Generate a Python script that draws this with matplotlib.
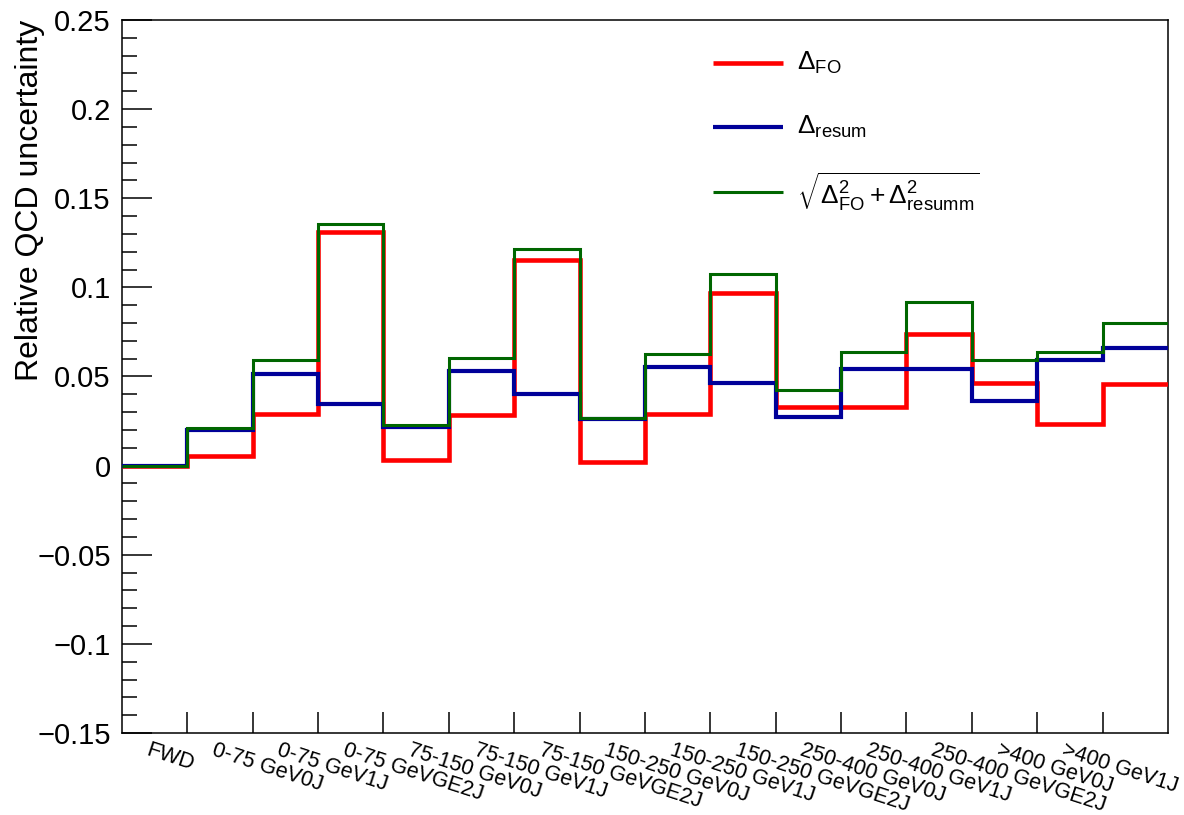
import matplotlib
matplotlib.use("Agg")
import matplotlib.pyplot as plt
import numpy as np
from matplotlib.lines import Line2D
from matplotlib.ticker import MultipleLocator, FuncFormatter, FixedLocator
from matplotlib.transforms import ScaledTranslation

plt.rcParams['font.family'] = ['Liberation Sans', 'DejaVu Sans']
plt.rcParams['mathtext.fontset'] = 'custom'
plt.rcParams['mathtext.rm'] = 'Liberation Sans'
plt.rcParams['mathtext.it'] = 'Liberation Sans:italic'
plt.rcParams['mathtext.bf'] = 'Liberation Sans:bold'

# Analysis categories (one histogram bin each; the last bin carries no label)
bin_labels = [
    "FWD",
    "0-75 GeV0J", "0-75 GeV1J", "0-75 GeVGE2J",
    "75-150 GeV0J", "75-150 GeV1J", "75-150 GeVGE2J",
    "150-250 GeV0J", "150-250 GeV1J", "150-250 GeVGE2J",
    "250-400 GeV0J", "250-400 GeV1J", "250-400 GeVGE2J",
    ">400 GeV0J", ">400 GeV1J", "",
]

# Relative uncertainties per bin
delta_fo = [0.0, 0.0056, 0.0287, 0.1310, 0.0030, 0.0285, 0.1152, 0.0020,
            0.0290, 0.0970, 0.0330, 0.0330, 0.0736, 0.0466, 0.0236, 0.0460]
delta_resum = [0.0, 0.0198, 0.0515, 0.0348, 0.0217, 0.0528, 0.0399, 0.0260,
               0.0556, 0.0466, 0.0275, 0.0540, 0.0540, 0.0365, 0.0590, 0.0660]
delta_total = [0.0, 0.0213, 0.0590, 0.1358, 0.0229, 0.0601, 0.1217, 0.0265,
               0.0624, 0.1073, 0.0427, 0.0640, 0.0920, 0.0590, 0.0635, 0.0800]

legend_labels = [
    r"$\Delta_{\mathrm{FO}}$",
    r"$\Delta_{\mathrm{resum}}$",
    r"$\sqrt{\Delta^{2}_{\mathrm{FO}} + \Delta^{2}_{\mathrm{resumm}}}$",
]

n_bins = len(bin_labels)
edges = np.arange(n_bins + 1)
centers = edges[:-1] + 0.5

fig = plt.figure(figsize=(11.84, 8.15), dpi=100)
ax = fig.add_axes([0.103, 0.1006, 0.8835, 0.8749])

red = "#ff0000"
blue = "#000099"
green = "#006600"
styles = [(red, 3.3), (blue, 3.0), (green, 2.2)]

for (col, lw), vals, z in zip(styles, [delta_fo, delta_resum, delta_total], [3, 4, 5]):
    ax.stairs(vals, edges, baseline=None, color=col, linewidth=lw, zorder=z)

ax.set_xlim(edges[0], edges[-1])
ax.set_ylim(-0.15, 0.25)

for sp in ax.spines.values():
    sp.set_linewidth(1.1)
    sp.set_color("black")

# y axis: major every 0.05, minor every 0.01, ticks inside on the left only
ax.yaxis.set_major_locator(MultipleLocator(0.05))
ax.yaxis.set_minor_locator(MultipleLocator(0.01))
ax.yaxis.set_major_formatter(FuncFormatter(lambda v, p: ("%g" % round(v, 4)).replace("-", "\u2212")))
ax.tick_params(axis="y", which="major", direction="in", length=21.6, width=1.1,
               labelsize=21, pad=8, right=False)
ax.tick_params(axis="y", which="minor", direction="in", length=10.8, width=1.1, right=False)

# x axis: ticks at bin edges, labels at bin centres
ax.xaxis.set_major_locator(FixedLocator(edges[1:-1]))
ax.xaxis.set_major_formatter(FuncFormatter(lambda v, p: ""))
ax.set_xticks(centers, bin_labels, minor=True)
ax.tick_params(axis="x", which="major", direction="in", length=15, width=1.1, top=False)
ax.tick_params(axis="x", which="minor", length=0, labelsize=15.5, pad=5, top=False)
shift = ScaledTranslation(-4 / 100, 0, fig.dpi_scale_trans)
for lab in ax.get_xticklabels(minor=True):
    lab.set_rotation(-18)
    lab.set_rotation_mode("anchor")
    lab.set_ha("left")
    lab.set_va("top")
    lab.set_transform(lab.get_transform() + shift)

ax.set_ylabel("Relative QCD uncertainty", fontsize=23, loc="top")
ax.yaxis.set_label_coords(-0.074, 1.0)

# legend: short line samples with labels, stacked in the upper right
leg_rows = [0.9397, 0.8499, 0.7588]
for (col, lw), lab, yy in zip(styles, legend_labels, leg_rows):
    ax.add_line(Line2D([0.565, 0.632], [yy, yy], transform=ax.transAxes,
                       color=col, linewidth=lw, solid_capstyle="butt"))
    ax.text(0.645, yy, lab, transform=ax.transAxes, fontsize=19,
            ha="left", va="center")

fig.savefig("out.png", dpi=100)
